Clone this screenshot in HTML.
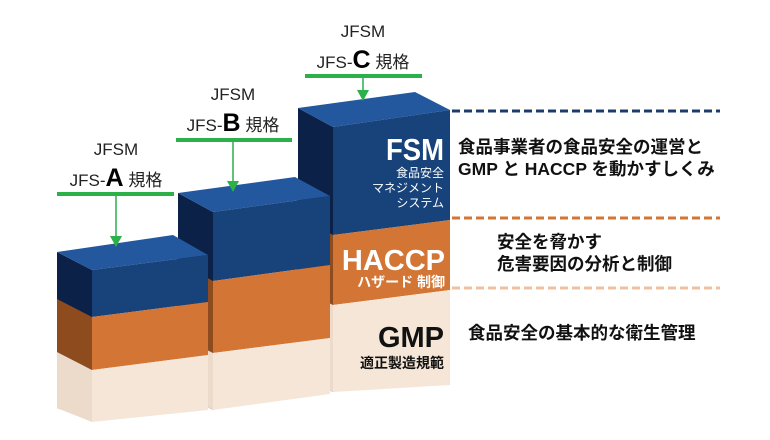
<!DOCTYPE html>
<html><head><meta charset="utf-8"><style>
html,body{margin:0;padding:0;background:#fff;}
svg{display:block;}
text{font-family:"Liberation Sans","Noto Sans CJK JP",sans-serif;}
</style></head><body>
<svg width="770" height="440" viewBox="0 0 770 440" xmlns="http://www.w3.org/2000/svg">
<!-- Block C -->
<g>
<polygon points="298,108 333,127 333,392 298,374" fill="#0b2148"/>
<polygon points="298,217 333,235 333,305 298,287" fill="#8e4c1e"/>
<polygon points="298,287 333,305 333,392 298,374" fill="#ecdacb"/>
<polygon points="298,108 415,92 450,110 333,127" fill="#24589e"/>
<polygon points="333,127 450,110 450,220 333,235" fill="#17427a"/>
<polygon points="333,235 450,220 450,290 333,305" fill="#d37535"/>
<polygon points="333,305 450,290 450,385 333,392" fill="#f6e6d8"/>
</g>
<!-- Block B -->
<g>
<polygon points="178,193 213,212 213,410 178,392" fill="#0b2148"/>
<polygon points="178,262 213,281 213,353 178,335" fill="#8e4c1e"/>
<polygon points="178,335 213,353 213,410 178,392" fill="#ecdacb"/>
<polygon points="178,193 295,177 330,196 213,212" fill="#24589e"/>
<polygon points="213,212 330,196 330,265 213,281" fill="#17427a"/>
<polygon points="213,281 330,265 330,338 213,353" fill="#d37535"/>
<polygon points="213,353 330,338 330,394 213,410" fill="#f6e6d8"/>
</g>
<!-- Block A -->
<g>
<polygon points="57,252 92,270 92,420 57,408" fill="#0b2148"/>
<polygon points="57,299 92,317 92,370 57,352" fill="#8e4c1e"/>
<polygon points="57,352 92,370 92,422 57,408" fill="#ecdacb"/>
<polygon points="57,252 173,235 208,255 92,270" fill="#24589e"/>
<polygon points="92,270 208,255 208,302 92,317" fill="#17427a"/>
<polygon points="92,317 208,302 208,355 92,370" fill="#d37535"/>
<polygon points="92,370 208,355 208,410 92,422" fill="#f6e6d8"/>
</g>
<!-- Block labels -->
<text x="444" y="160" text-anchor="end" fill="#fff" font-size="31" font-weight="bold" textLength="58" lengthAdjust="spacingAndGlyphs">FSM</text>
<text x="444" y="177" text-anchor="end" fill="#fff" font-size="12">食品安全</text>
<text x="444" y="192" text-anchor="end" fill="#fff" font-size="12">マネジメント</text>
<text x="444" y="207" text-anchor="end" fill="#fff" font-size="12">システム</text>
<text x="445" y="270" text-anchor="end" fill="#fff" font-size="29" font-weight="bold">HACCP</text>
<text x="445" y="287" text-anchor="end" fill="#fff" font-size="14" font-weight="bold">ハザード 制御</text>
<text x="444" y="347" text-anchor="end" fill="#111" font-size="29" font-weight="bold">GMP</text>
<text x="444" y="368" text-anchor="end" fill="#111" font-size="14" font-weight="bold">適正製造規範</text>
<!-- dashed lines -->
<line x1="452" y1="111" x2="720" y2="111" stroke="#1c3d6b" stroke-width="3" stroke-dasharray="8,4"/>
<line x1="452" y1="218" x2="720" y2="218" stroke="#d37535" stroke-width="3" stroke-dasharray="8,4"/>
<line x1="452" y1="288" x2="720" y2="288" stroke="#efc1a0" stroke-width="3" stroke-dasharray="8,4"/>
<!-- descriptions -->
<g font-size="17.5" font-weight="bold" fill="#111">
<text x="458" y="153">食品事業者の食品安全の運営と</text>
<text x="458" y="175">GMP と HACCP を動かすしくみ</text>
<text x="497" y="248">安全を脅かす</text>
<text x="497" y="270">危害要因の分析と制御</text>
<text x="468" y="339">食品安全の基本的な衛生管理</text>
</g>
<!-- top labels -->
<g fill="#222">
<text x="116" y="155" text-anchor="middle" font-size="17">JFSM</text>
<text x="116" y="186" text-anchor="middle" font-size="17">JFS-<tspan font-size="25" font-weight="bold" fill="#000">A</tspan> 規格</text>
<text x="233" y="100" text-anchor="middle" font-size="17">JFSM</text>
<text x="233" y="131" text-anchor="middle" font-size="17">JFS-<tspan font-size="25" font-weight="bold" fill="#000">B</tspan> 規格</text>
<text x="363" y="37" text-anchor="middle" font-size="17">JFSM</text>
<text x="363" y="68" text-anchor="middle" font-size="17">JFS-<tspan font-size="25" font-weight="bold" fill="#000">C</tspan> 規格</text>
</g>
<g fill="#2bb04a" stroke="#2bb04a">
<rect x="57" y="192" width="117" height="4" stroke="none"/>
<line x1="116" y1="196" x2="116" y2="238" stroke-width="1.5"/>
<polygon points="110,236 122,236 116,247" stroke="none"/>
<rect x="176" y="138" width="116" height="4" stroke="none"/>
<line x1="233" y1="142" x2="233" y2="183" stroke-width="1.5"/>
<polygon points="227,181 239,181 233,192" stroke="none"/>
<rect x="305" y="74" width="117" height="4" stroke="none"/>
<line x1="363" y1="78" x2="363" y2="92" stroke-width="1.5"/>
<polygon points="357,90 369,90 363,101" stroke="none"/>
</g>
</svg>
</body></html>
